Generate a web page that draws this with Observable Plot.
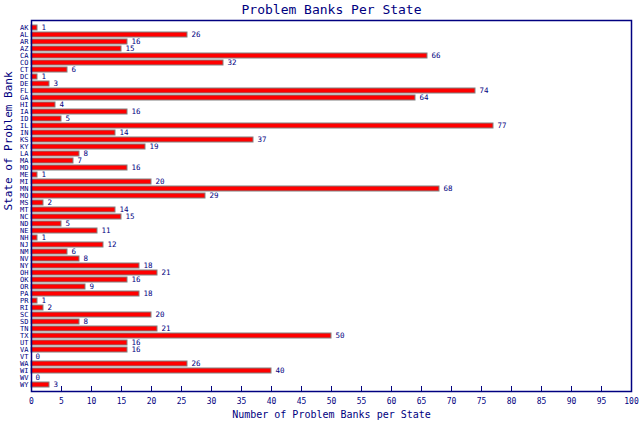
<!DOCTYPE html>
<html>
<head>
<meta charset="utf-8">
<script src="https://cdn.jsdelivr.net/npm/d3@7"></script>
<script src="https://cdn.jsdelivr.net/npm/@observablehq/plot@0.6"></script>
<style>
  html, body { margin: 0; padding: 0; background: #fff; }
</style>
</head>
<body>
<div id="chart"></div>
<script>
const states = ["AK","AL","AR","AZ","CA","CO","CT","DC","DE","FL","GA","HI","IA","ID","IL","IN","KS","KY","LA","MA","MD","ME","MI","MN","MO","MS","MT","NC","ND","NE","NH","NJ","NM","NV","NY","OH","OK","OR","PA","PR","RI","SC","SD","TN","TX","UT","VA","VT","WA","WI","WV","WY"];
const banks = [1,26,16,15,66,32,6,1,3,74,64,4,16,5,77,14,37,19,8,7,16,1,20,68,29,2,14,15,5,11,1,12,6,8,18,21,16,9,18,1,2,20,8,21,50,16,16,0,26,40,0,3];
const xTicks = [0,5,10,15,20,25,30,35,40,45,50,55,60,65,70,75,80,85,90,95,100];
const title = "Problem Banks Per State";
const xLabel = "Number of Problem Banks per State";
const yLabel = "State of Problem Bank";

const data = states.map((s, i) => ({state: s, value: banks[i]}));
const navy = "#000080";
const font = "DejaVu Sans Mono";

const chart = Plot.plot({
  width: 640,
  height: 435,
  marginLeft: 31,
  marginRight: 9,
  marginTop: 20,
  marginBottom: 44,
  style: {fontFamily: font, fontSize: "8px", color: navy, background: "#fff", overflow: "visible"},
  x: {domain: [0, 100], ticks: xTicks, label: null},
  y: {type: "band", domain: states, paddingInner: 0.35, paddingOuter: 0.5, insetTop: 1.5, insetBottom: 0.5, label: null},
  marks: [
    Plot.barX(data, {x: "value", y: "state", fill: "#ff0000", stroke: "#808080", strokeWidth: 1}),
    Plot.text(data, {x: "value", y: "state", text: d => String(d.value), textAnchor: "start", dx: 4, fill: navy, fontSize: 7.5}),
    Plot.tickX(xTicks, {x: d => d, stroke: navy, insetTop: 366}),
    Plot.axisX({ticks: xTicks, tickSize: 0, tickPadding: 7, fill: navy, fontSize: 8, label: null}),
    Plot.axisY({tickSize: 0, tickPadding: 3, fill: navy, fontSize: 7, label: null}),
    Plot.frame({stroke: navy, strokeWidth: 1.5}),
    Plot.text([title], {frameAnchor: "top", dy: -11, lineAnchor: "middle", fill: navy, fontSize: 13, text: d => d}),
    Plot.text([xLabel], {frameAnchor: "bottom", dy: 23, lineAnchor: "middle", fill: navy, fontSize: 10, text: d => d}),
    Plot.text([yLabel], {frameAnchor: "left", dx: -23, dy: -65, rotate: -90, textAnchor: "middle", lineAnchor: "middle", fill: navy, fontSize: 11, letterSpacing: "0.8px", text: d => d})
  ]
});
document.getElementById("chart").appendChild(chart);
</script>
</body>
</html>
